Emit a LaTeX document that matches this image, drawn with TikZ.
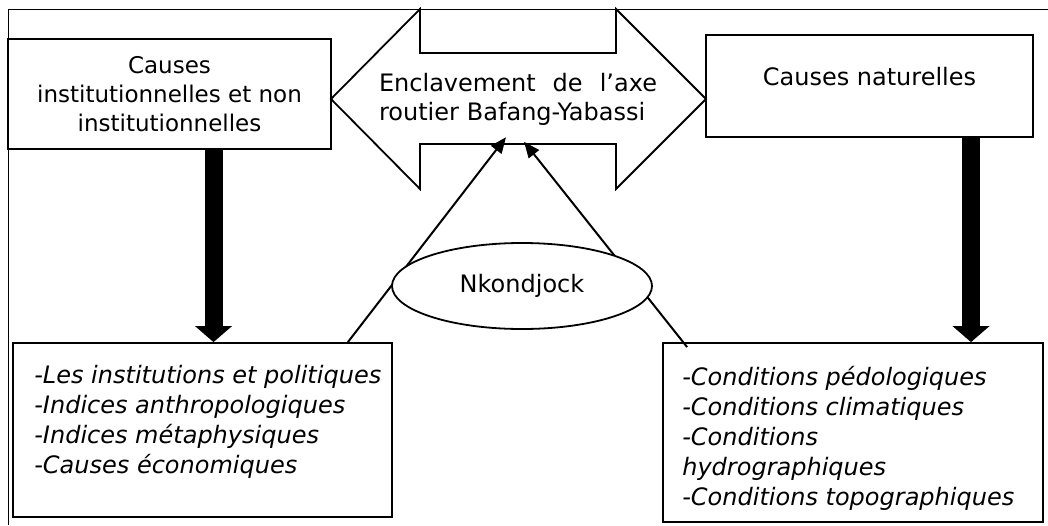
\documentclass[tikz,border=0pt]{standalone}
\usepackage{fontspec}
\setmainfont{DejaVu Sans}
\usetikzlibrary{arrows.meta,positioning,calc,shapes.geometric}
\tikzset{
  frameln/.style={line width=1pt},
  causebox/.style={draw, rectangle, line width=1.8pt, inner sep=0pt},
  listtxt/.style={anchor=north west, align=left, inner sep=0pt, font=\fontsize{24}{30}\selectfont\itshape},
  bigarr/.style={-{Triangle[length=16pt,width=37pt,line width=0pt]}, line width=18pt},
  linkarr/.style={-{Triangle[length=16pt,width=13pt]}, line width=2pt},
}

\begin{document}
\begin{tikzpicture}[x=1pt, y=-1pt, font=\fontsize{24}{29}\selectfont]
  \useasboundingbox (0,0) rectangle (1048,525);
  \draw[frameln] (8,525) -- (8,9) -- (1048,9);
  \node[causebox, minimum width=323pt, minimum height=110pt, align=center, font=\fontsize{23}{29}\selectfont] (inst)
    at (169.5,94) {Causes\\institutionnelles et non\\institutionnelles};
  \node[causebox, minimum width=327pt, minimum height=102pt, text depth=19pt] (nat) at (869.5,86)
    {Causes naturelles};
  \draw[line width=1.8pt, line join=miter, fill=white] (331,99) -- (420,9) -- (420,53) -- (616,53) -- (616,9)
    -- (706,99) -- (616,189) -- (616,144) -- (420,144) -- (420,189) -- cycle;
  \node[text width=278pt, align=left, minimum height=91pt, inner sep=0pt] (enclav) at (518,99)
    {Enclavement \hfill de \hfill l’axe\\routier Bafang-Yabassi};
  \node[causebox, minimum width=379pt, minimum height=174pt] (instl) at (202.5,430) {};
  \node[listtxt] (instt) at ($(instl.north west)+(22,23)$)
    {-Les institutions et politiques\\-Indices anthropologiques\\-Indices métaphysiques\\-Causes économiques};
  \node[causebox, minimum width=380pt, minimum height=179pt] (natl) at (853,432.5) {};
  \node[listtxt] (natt) at ($(natl.north west)+(20,24)$)
    {-Conditions pédologiques\\-Conditions climatiques\\-Conditions\\hydrographiques\\-Conditions topographiques};
  \draw[bigarr] ($(inst.south)+(44,0)$) -- ($(instl.north)+(11,0)$);
  \draw[bigarr] ($(nat.south)+(101.5,0)$) -- ($(natl.north)+(118,0)$);
  \draw[linkarr] ($(instl.north east)+(-45,0)$) -- ($(enclav.south)+(-12,-7.5)$);
  \draw[linkarr] ($(natl.north west)+(25,5)$) -- ($(enclav.south)+(6,-3)$);
  \node[ellipse, draw, line width=1.8pt, fill=white, minimum width=260pt, minimum height=86pt, inner sep=0pt] (nk)
    at (522,286) {Nkondjock};
\end{tikzpicture}
\end{document}
